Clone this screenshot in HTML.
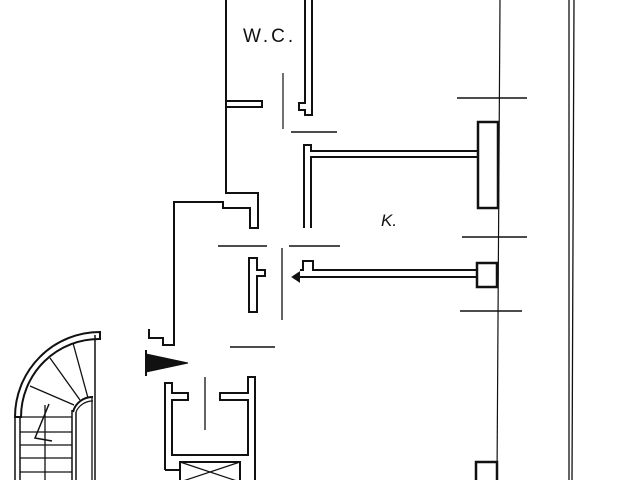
<!DOCTYPE html>
<html><head><meta charset="utf-8"><style>
html,body{margin:0;padding:0;background:#fff;width:640px;height:480px;overflow:hidden}
svg{display:block}
text{font-family:"Liberation Sans",sans-serif;fill:#111}
</style></head><body>
<svg width="640" height="480" viewBox="0 0 640 480" xmlns="http://www.w3.org/2000/svg">
<g fill="none" stroke="#111" stroke-width="2" stroke-linejoin="miter">
<path d="M226 0 V193 H258 V228 H250 V208 H223 V202 H174 V345 H163 V338 H149 V329"/>
<path d="M226 101 H262 V107 H226"/>
<path d="M305 0 V103 H299 V110 H305 V115 H312 V0"/>
<path d="M283 73 V129" stroke-width="1.2"/>
<path d="M291 132 H337" stroke-width="1.5"/>
<path d="M304 228 V145 H311 V151 H477 M311 228 V157 H477"/>
<rect x="478" y="122" width="20" height="86" stroke-width="2.5"/>
<path d="M500 0 L497 480" stroke-width="1.2"/>
<path d="M569 0 L569 480 M574 0 L572 480" stroke-width="1.3"/>
<path d="M457 98 H527 M462 237 H527 M460 311 H522" stroke-width="1.5"/>
<path d="M296 277 H477 M300 270 H303 V261 H313 V270 H477" />
<path d="M293 277 l6 -4 v8 z" fill="#111"/>
<rect x="477" y="263" width="20" height="24" stroke-width="2.5"/>
<rect x="476" y="462" width="21" height="20" stroke-width="2.5"/>
<path d="M218 246 H267 M289 246 H340" stroke-width="1.5"/>
<path d="M249 258 H257 V270 H265 V276 H257 V312 H249 Z"/>
<path d="M282 248 V320" stroke-width="1.3"/>
<path d="M230 347 H275" stroke-width="1.5"/>
<path d="M146 354 L188 363 L146 372 Z" fill="#111" stroke-width="1"/>
<path d="M146 350 V376" stroke-width="2"/>
<path d="M165 470 V383 H172 V393 H188 V400 H172 V455 H248 V400 H220 V393 H248 V377 H255 V480 M165 470 H180"/>
<path d="M205 377 V430" stroke-width="1.3"/>
<rect x="180" y="462" width="60" height="20"/>
<path d="M180 462 L240 482 M240 462 L180 482" stroke-width="1.2"/>
<path d="M15 417 A85 85 0 0 1 100 332 V339 A78 78 0 0 0 21 417 Z"/>
<path d="M73 412 A20 20 0 0 1 93 397" />
<path d="M76 412 A18 18 0 0 1 93 401" stroke-width="1.2"/>
<path d="M95 335 V480" stroke-width="1.5"/>
<path d="M92 397 V480" stroke-width="1.3"/>
<path d="M15 417 V480 M20 417 V480 M72 410 V480 M76 412 V480" stroke-width="1.5"/>
<path d="M15 417 H72 M20 432 H72 M20 445 H72 M20 458 H72 M20 472 H72" stroke-width="1.3"/>
<path d="M30 386 L74 405 M50 358 L80 400 M73 343 L88 398" stroke-width="1.3"/>
<path d="M45 405 V480" stroke-width="1.3"/>
<path d="M49 404 L35 438 L52 441" stroke-width="1.5"/>
</g>
<text x="243" y="42" font-size="19" letter-spacing="3">W.C.</text>
<text x="381" y="226" font-size="17" font-style="italic">K.</text>
</svg>
</body></html>
